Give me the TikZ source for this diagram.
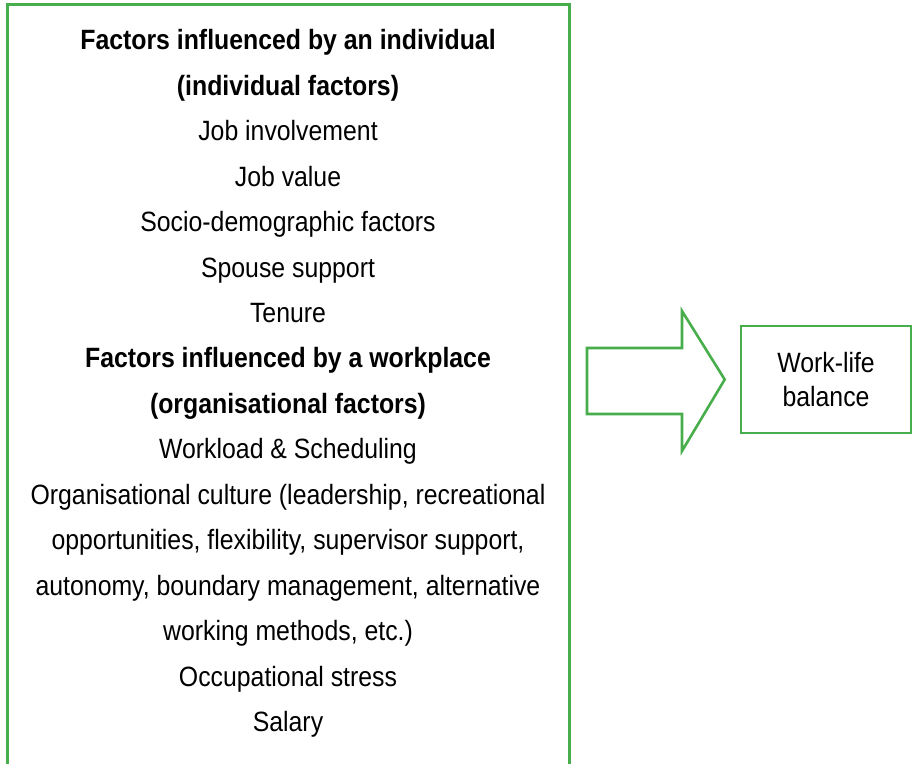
\documentclass[tikz,border=0pt]{standalone}
\usepackage{fontspec}
\setmainfont{Liberation Sans}[FakeStretch=0.89]
\usetikzlibrary{positioning}
\definecolor{framegreen}{RGB}{72,174,76}

\begin{document}
\begin{tikzpicture}[x=1pt,y=-1pt,line width=2.6pt]
  \tikzstyle{frame}=[draw=framegreen]
  \tikzstyle{factortext}=[align=center,inner sep=0pt,font=\fontsize{27.9}{45.45}\selectfont]

  \useasboundingbox (0,0) rectangle (912,763);

  % left panel: the factors, box open at the bottom
  \node[factortext,anchor=north] (factors) at (288,28.3) {%
    \textbf{Factors influenced by an individual}\\
    \textbf{(individual factors)}\\
    Job involvement\\
    Job value\\
    Socio-demographic factors\\
    Spouse support\\
    Tenure\\
    \textbf{Factors influenced by a workplace}\\
    \textbf{(organisational factors)}\\
    Workload \& Scheduling\\
    Organisational culture (leadership, recreational\\
    opportunities, flexibility, supervisor support,\\
    autonomy, boundary management, alternative\\
    working methods, etc.)\\
    Occupational stress\\
    Salary};
  \draw[frame,line width=3pt] (7,775) -- (7,4) -- (569,4) -- (569,775);

  % right panel
  \node[frame,minimum width=170pt,minimum height=107pt,align=center,
        font=\fontsize{27.9}{34}\selectfont] (wlb) at (826,379.5) {Work-life\\balance};

  % block arrow
  \coordinate (tip) at ([xshift=-15pt]wlb.west);
  \draw[frame,line join=miter] (587,348) -- (682,348) -- (682,311) -- (tip)
    -- (682,451) -- (682,414) -- (587,414) -- cycle;
\end{tikzpicture}
\end{document}
